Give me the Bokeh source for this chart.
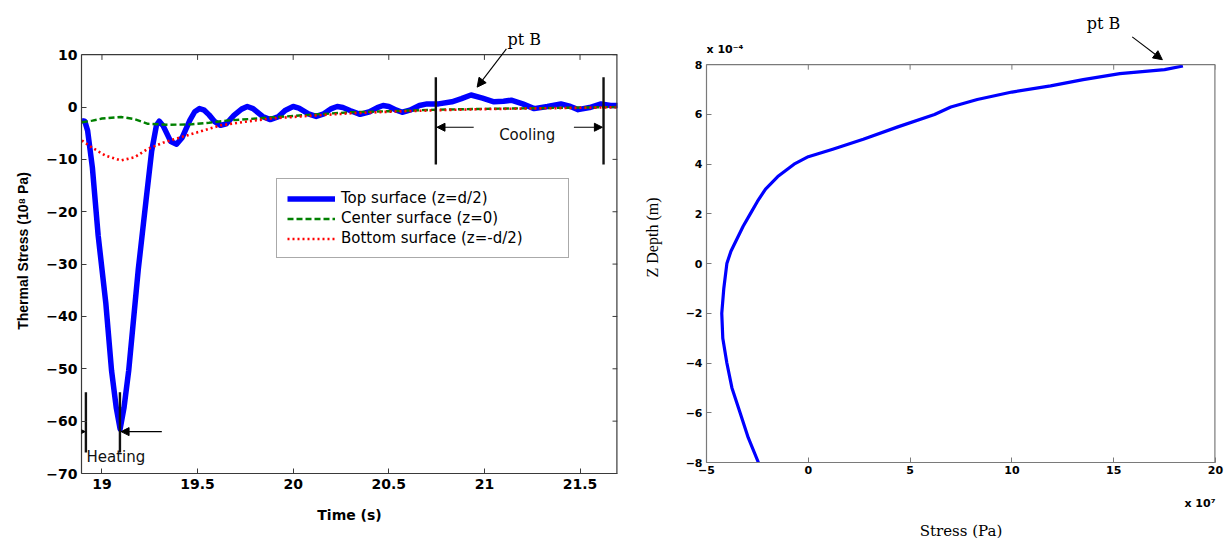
from bokeh.plotting import figure
from bokeh.layouts import row, column
from bokeh.models import (Range1d, FixedTicker, Legend, LegendItem, Label, Arrow,
                          NormalHead, Span, Title)
from bokeh.embed import file_html
from bokeh.resources import INLINE

# ---------------- Left chart data (stress in 1e8 Pa) ----------------
time_top = [18.895, 18.91, 18.925, 18.95, 18.98, 19.02, 19.05, 19.075, 19.095, 19.115,
            19.14, 19.19, 19.23, 19.26, 19.285, 19.30, 19.32, 19.36, 19.39, 19.42,
            19.46, 19.485, 19.51, 19.535, 19.56, 19.59, 19.62, 19.65, 19.69, 19.73,
            19.76, 19.79, 19.84, 19.88, 19.92, 19.96, 20.0, 20.03, 20.08, 20.12,
            20.16, 20.20, 20.23, 20.26, 20.30, 20.35, 20.40, 20.44, 20.47, 20.50,
            20.54, 20.57, 20.61, 20.66, 20.70, 20.76, 20.83, 20.88, 20.93, 20.99,
            21.05, 21.10, 21.14, 21.20, 21.26, 21.33, 21.40, 21.45, 21.49, 21.55,
            21.61, 21.66, 21.70]
stress_top = [-2.6, -2.7, -4.5, -11.6, -24.5, -37.4, -50.3, -57.5, -61.5, -57.5,
              -50.3, -31.0, -18.0, -8.4, -3.5, -2.7, -3.6, -6.6, -7.1, -5.8,
              -2.5, -0.9, -0.3, -0.6, -1.5, -2.8, -3.5, -3.2, -1.6, -0.4,
              0.1, -0.3, -1.8, -2.4, -1.9, -0.6, 0.1, -0.2, -1.3, -1.8,
              -1.3, -0.3, 0.1, -0.1, -0.7, -1.4, -0.9, -0.1, 0.3, 0.1,
              -0.6, -1.0, -0.6, 0.3, 0.6, 0.6, 1.0, 1.6, 2.3, 1.7,
              1.0, 1.1, 1.3, 0.6, -0.3, 0.1, 0.6, 0.1, -0.5, -0.1,
              0.6, 0.3, 0.3]

time_center = [18.895, 18.95, 19.0, 19.1, 19.17, 19.24, 19.35, 19.47, 19.56, 19.65,
               19.77, 19.88, 20.0, 20.12, 20.30, 20.5, 20.76, 21.0, 21.3, 21.5, 21.70]
stress_center = [-2.9, -2.6, -2.2, -1.9, -2.3, -3.2, -3.4, -3.3, -3.0, -2.6,
                 -2.3, -2.0, -1.7, -1.4, -1.0, -0.8, -0.5, -0.35, -0.2, -0.1, 0.0]

time_bottom = [18.895, 18.95, 19.02, 19.1, 19.17, 19.24, 19.32, 19.41, 19.52, 19.62,
               19.75, 19.88, 20.0, 20.12, 20.30, 20.5, 20.76, 21.0, 21.3, 21.5, 21.70]
stress_bottom = [-6.4, -7.8, -9.3, -10.2, -9.6, -8.0, -6.8, -5.8, -4.6, -3.5,
                 -2.8, -2.2, -1.9, -1.6, -1.2, -0.9, -0.6, -0.4, -0.25, -0.15, -0.05]

left_x_ticks = [19, 19.5, 20, 20.5, 21, 21.5]
left_x_tick_labels = ["19", "19.5", "20", "20.5", "21", "21.5"]
left_y_ticks = [-70, -60, -50, -40, -30, -20, -10, 0, 10]
legend_labels = ["Top surface (z=d/2)", "Center surface (z=0)", "Bottom surface (z=-d/2)"]

# annotation readings (time s, stress 1e8 Pa)
heating_marks = [18.916, 19.094]
heating_span = [-54.5, -66.0]
cooling_marks = [20.746, 21.623]
cooling_span = [5.7, -11.0]

# ---------------- Right chart data ----------------
depth_z = [7.95, 7.8, 7.64, 7.4, 7.15, 6.9, 6.6, 6.3, 6.0, 5.5, 5.0, 4.6, 4.3, 4.0,
           3.5, 3.0, 2.5, 2.0, 1.5, 1.0, 0.5, 0.0, -1.0, -2.0, -3.0, -4.0, -5.0,
           -6.0, -7.0, -8.0]                      # x 1e-4 m
stress_profile = [18.4, 17.5, 15.3, 13.5, 11.9, 10.0, 8.3, 7.0, 6.2, 4.4, 2.7, 1.2, 0.0,
                  -0.7, -1.5, -2.1, -2.5, -2.85, -3.2, -3.5, -3.8, -4.0, -4.15, -4.25,
                  -4.2, -4.0, -3.75, -3.35, -2.95, -2.45]   # x 1e7 Pa
right_x_ticks = [-5, 0, 5, 10, 15, 20]
right_y_ticks = [-8, -6, -4, -2, 0, 2, 4, 6, 8]

SANS = "Liberation Sans"
WIDE = "DejaVu Sans"
SERIF = "DejaVu Serif"
AX1 = "#3a3a3a"
AX2 = "#7a7a7a"

X1 = (18.893, 21.696)
Y1 = (-70, 10)
X2 = (-5, 20)
Y2 = (-8, 8)


def arrow(p, x0, y0, x1, y1, size=8):
    p.add_layout(Arrow(end=NormalHead(size=size, fill_color="black", line_color="black", line_width=1),
                       x_start=x0, y_start=y0, x_end=x1, y_end=y1,
                       line_color="black", line_width=1.1))


# ================= LEFT FIGURE =================
p1 = figure(width=640, height=540, x_range=Range1d(*X1), y_range=Range1d(Y1[0], 15.0),
            output_backend="svg", toolbar_location=None,
            min_border_left=81, min_border_right=23, min_border_top=28, min_border_bottom=67)
p1.grid.visible = False
p1.outline_line_color = None

r_top = p1.line(time_top, stress_top, line_color="#0000ff", line_width=5.5, line_join="round")
r_cen = p1.line(time_center, stress_center, line_color="#008000", line_width=2.4, line_dash="6 3")
r_bot = p1.line(time_bottom, stress_bottom, line_color="#ff0000", line_width=2.6, line_dash="2 3")

for ax in (p1.xaxis[0], p1.yaxis[0]):
    ax.major_tick_in = 5
    ax.major_tick_out = 0
    ax.minor_tick_in = 0
    ax.minor_tick_out = 0
    ax.axis_line_color = AX1
    ax.axis_line_width = 1.2
    ax.major_tick_line_color = AX1
    ax.major_label_text_font = WIDE
    ax.major_label_text_font_style = "bold"
    ax.major_label_text_font_size = "14px"
    ax.major_label_text_color = "black"
    ax.axis_label_text_font_style = "bold"
    ax.axis_label_text_color = "black"

p1.xaxis.ticker = FixedTicker(ticks=left_x_ticks)
p1.xaxis.major_label_overrides = {t: s for t, s in zip(left_x_ticks, left_x_tick_labels)}
p1.xaxis.major_label_standoff = 5
p1.add_layout(Title(text="Time (s)", align="center", text_font=WIDE, text_font_style="bold",
                    text_font_size="14px", standoff=27, text_color="black"), "below")

p1.yaxis.ticker = FixedTicker(ticks=left_y_ticks)
p1.yaxis.bounds = Y1
p1.yaxis.major_label_standoff = 4
p1.yaxis.axis_label = "Thermal Stress (10\u2078 Pa)"
p1.yaxis.axis_label_text_font = SANS
p1.yaxis.axis_label_text_font_size = "14px"
p1.yaxis.axis_label_standoff = 12

# box: top border, right border, inward ticks
p1.add_layout(Span(location=Y1[1], dimension="width", line_color=AX1, line_width=1.2))
p1.segment(x0=[X1[1]], y0=[Y1[0]], x1=[X1[1]], y1=[Y1[1]], line_color=AX1, line_width=2.4)
p1.segment(x0=left_x_ticks, y0=[Y1[1]] * len(left_x_ticks), x1=left_x_ticks,
           y1=[Y1[1] - 1.0] * len(left_x_ticks), line_color=AX1, line_width=1)
p1.segment(x0=[X1[1]] * len(left_y_ticks), y0=left_y_ticks, x1=[X1[1] - 0.026] * len(left_y_ticks),
           y1=left_y_ticks, line_color=AX1, line_width=1)

legend = Legend(items=[LegendItem(label=legend_labels[0], renderers=[r_top]),
                       LegendItem(label=legend_labels[1], renderers=[r_cen]),
                       LegendItem(label=legend_labels[2], renderers=[r_bot])],
                location=(195, 215), margin=0, padding=10, spacing=2,
                glyph_width=48, glyph_height=17, label_height=17, label_width=217,
                label_standoff=6, label_text_font=WIDE, label_text_font_size="15px",
                label_text_color="black",
                border_line_color="#555555", border_line_width=1,
                background_fill_alpha=1.0)
p1.add_layout(legend)

# heating / cooling markers
p1.segment(x0=heating_marks, y0=[heating_span[0]] * 2, x1=heating_marks, y1=[heating_span[1]] * 2,
           line_color="#111111", line_width=2.4)
p1.segment(x0=cooling_marks, y0=[cooling_span[0]] * 2, x1=cooling_marks, y1=[cooling_span[1]] * 2,
           line_color="#111111", line_width=2.4)

arrow(p1, X1[0], -62.0, heating_marks[0] - 0.004, -62.0)
arrow(p1, 19.313, -62.0, heating_marks[1] + 0.006, -62.0)
arrow(p1, 20.944, -3.86, cooling_marks[0] + 0.006, -3.86)
arrow(p1, 21.468, -3.86, cooling_marks[1] - 0.006, -3.86)
arrow(p1, 21.115, 11.1, 20.962, 3.8, size=9)

p1.add_layout(Label(x=heating_marks[0] + 0.003, y=-66.9, text="Heating", text_font=WIDE,
                    text_font_size="15px", text_baseline="middle", text_align="left",
                    text_color="#111111"))
p1.add_layout(Label(x=21.224, y=-5.3, text="Cooling", text_font=WIDE,
                    text_font_size="15px", text_baseline="middle", text_align="center",
                    text_color="#111111"))
p1.add_layout(Label(x=21.209, y=Y1[1], y_offset=15, text="pt B", text_font=SERIF,
                    text_font_size="16px", text_baseline="middle", text_align="center",
                    text_color="black"))

# ================= RIGHT FIGURE =================
p2 = figure(width=584, height=540, x_range=Range1d(*X2), y_range=Range1d(Y2[0], 10.1),
            output_backend="svg", toolbar_location=None,
            min_border_left=66, min_border_right=9, min_border_top=12, min_border_bottom=78)
p2.grid.visible = False
p2.outline_line_color = None

p2.line(stress_profile, depth_z, line_color="#0000ff", line_width=3.2, line_join="round")

for ax in (p2.xaxis[0], p2.yaxis[0]):
    ax.major_tick_in = 5
    ax.major_tick_out = 0
    ax.minor_tick_in = 0
    ax.minor_tick_out = 0
    ax.axis_line_color = AX2
    ax.axis_line_width = 1.2
    ax.major_tick_line_color = AX2
    ax.major_label_text_font = WIDE
    ax.major_label_text_font_style = "bold"
    ax.major_label_text_font_size = "11px"
    ax.major_label_text_color = "black"
    ax.axis_label_text_font_style = "normal"
    ax.axis_label_text_color = "black"

p2.xaxis.ticker = FixedTicker(ticks=right_x_ticks)
p2.xaxis.major_label_standoff = 3

p2.yaxis.ticker = FixedTicker(ticks=right_y_ticks)
p2.yaxis.bounds = Y2
p2.yaxis.major_label_standoff = 4
p2.yaxis.axis_label = "Z Depth (m)"
p2.yaxis.axis_label_text_font = "Liberation Serif"
p2.yaxis.axis_label_text_font_size = "16px"
p2.yaxis.axis_label_standoff = 22

p2.add_layout(Title(text="x 10\u2077", align="right", text_font=WIDE, text_font_style="bold",
                    text_font_size="11px", standoff=36, text_color="black"), "below")
p2.add_layout(Title(text="Stress (Pa)", align="center", text_font=SERIF, text_font_style="normal",
                    text_font_size="15px", standoff=-16, text_color="black"), "below")

p2.add_layout(Span(location=Y2[1], dimension="width", line_color=AX2, line_width=1.2))
p2.segment(x0=[X2[1]], y0=[Y2[0]], x1=[X2[1]], y1=[Y2[1]], line_color=AX2, line_width=2.4)
p2.segment(x0=right_x_ticks, y0=[Y2[1]] * len(right_x_ticks), x1=right_x_ticks,
           y1=[Y2[1] - 0.2] * len(right_x_ticks), line_color=AX2, line_width=1)

p2.add_layout(Label(x=X2[0], y=Y2[1], y_offset=9, text="x 10\u207b\u2074", text_font=WIDE,
                    text_font_style="bold", text_font_size="11px", text_baseline="bottom",
                    text_align="left", text_color="black"))
p2.add_layout(Label(x=14.5, y=Y2[1], y_offset=41, text="pt B", text_font=SERIF,
                    text_font_size="16px", text_baseline="middle", text_align="center",
                    text_color="black"))
arrow(p2, 15.91, 9.12, 17.39, 8.2, size=9)

layout = row(column(p1), column(p2))
open("out.html", "w").write(file_html(layout, INLINE))
